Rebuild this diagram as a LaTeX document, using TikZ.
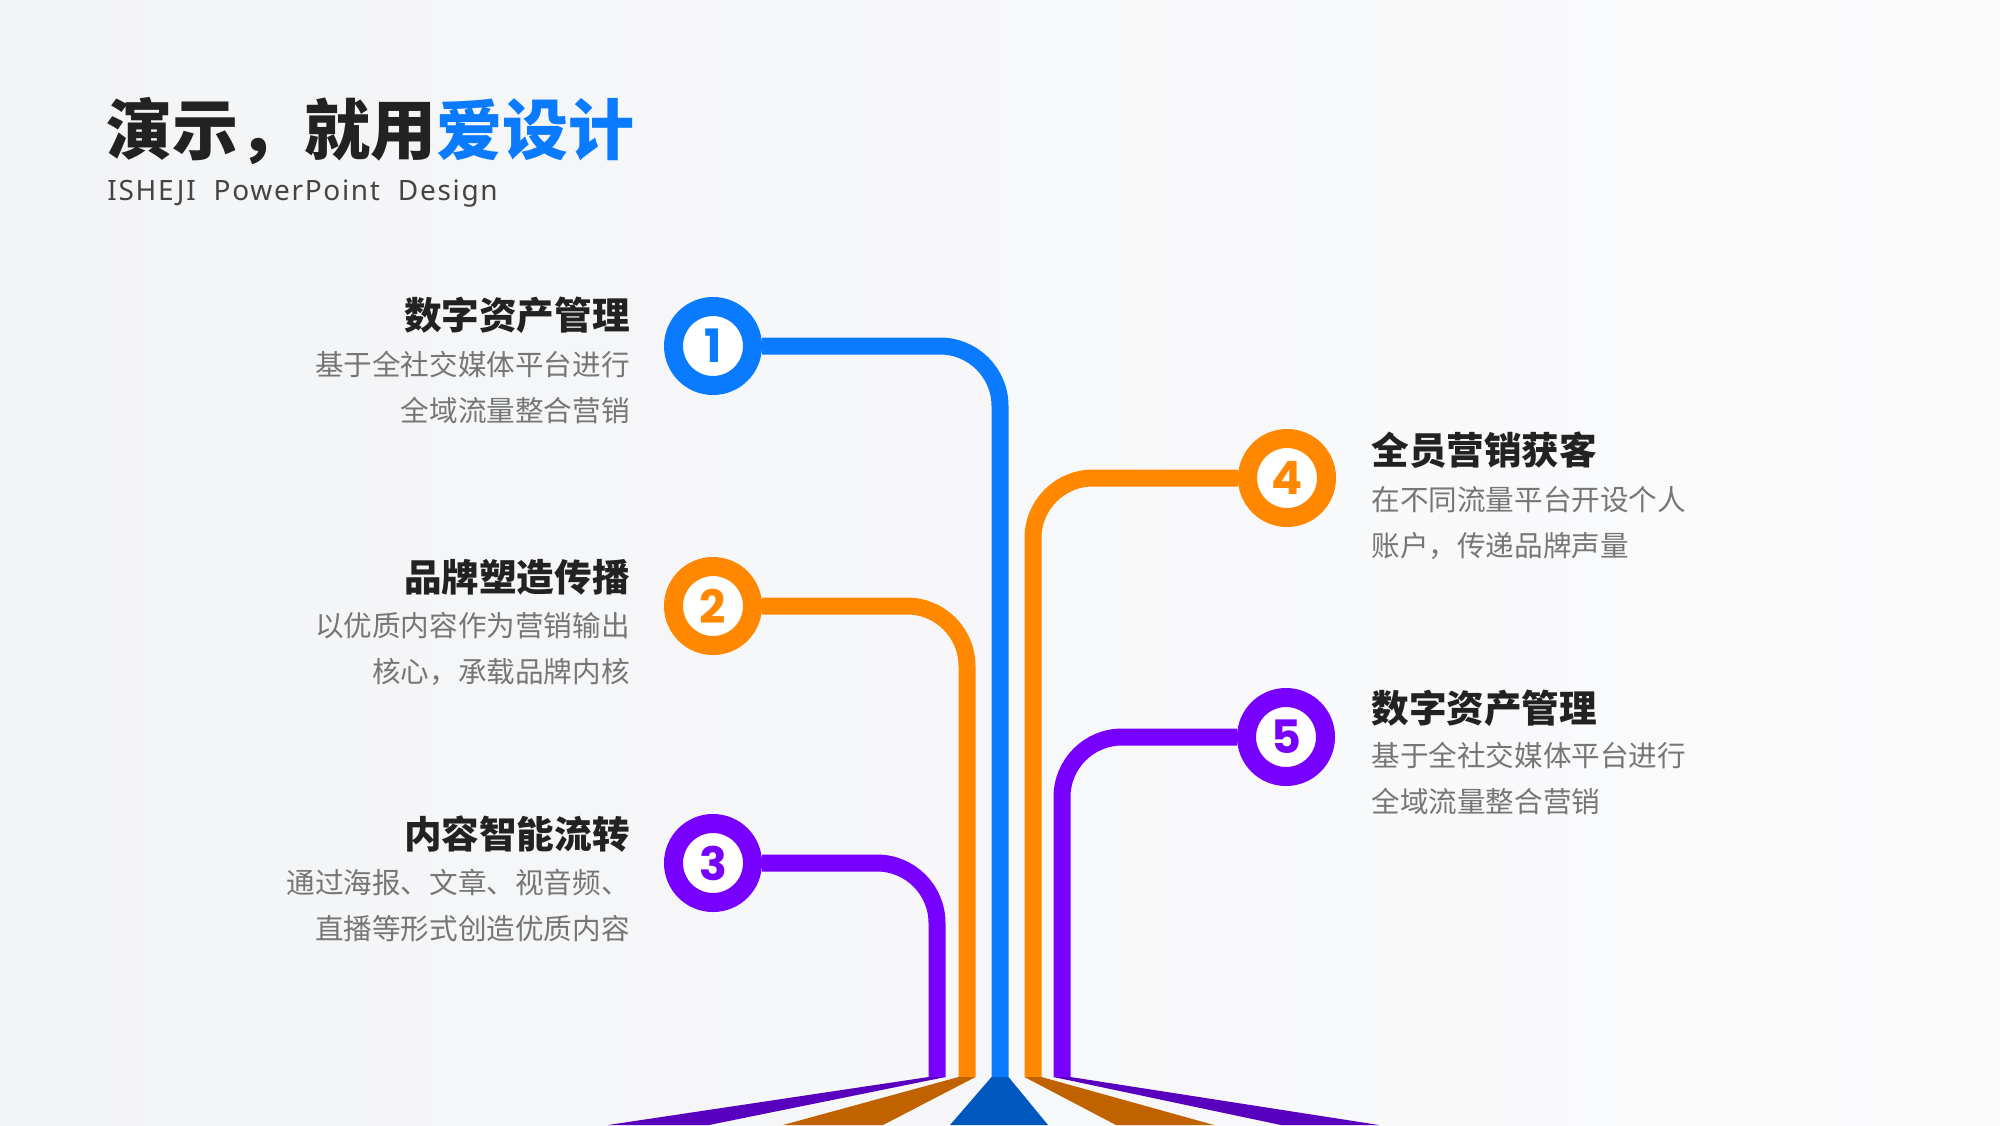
\documentclass[tikz,border=0pt]{standalone}
\usepackage{fontspec}
\usepackage{xcolor}
\usepackage{tikz}
\usetikzlibrary{positioning, calc}
\newfontfamily\cjk{Noto Sans CJK SC}
\newfontfamily\numfont{Poppins}
\newfontfamily\subfont[LetterSpace=6]{Noto Sans}
\definecolor{myblue}{RGB}{10,122,255}
\definecolor{myorange}{RGB}{255,136,0}
\definecolor{mypurple}{RGB}{119,0,255}
\definecolor{fanblue}{RGB}{0,88,190}
\definecolor{fanorange}{RGB}{192,98,0}
\definecolor{fanpurple}{RGB}{88,0,190}
\definecolor{mydark}{RGB}{34,34,34}
\definecolor{mygrey}{RGB}{118,118,118}
\definecolor{subgrey}{RGB}{68,68,68}
\definecolor{bgleft}{RGB}{243,244,246}
\definecolor{bgright}{RGB}{251,251,252}
\tikzset{
  ring/.style={circle, draw=#1, fill=white, line width=9.5pt,
    minimum size=39.5pt, inner sep=0pt, text=#1,
    font=\numfont\bfseries\fontsize{23}{23}\selectfont},
  wire/.style={line width=8.5pt, color=#1, rounded corners=30pt},
  headtext/.style={inner sep=0pt, text=mydark,
    font=\cjk\bfseries\fontsize{18.8}{22}\selectfont},
  desctext/.style={inner sep=0pt, text=mygrey,
    font=\cjk\fontsize{14.3}{23}\selectfont}
}

\begin{document}
\begin{tikzpicture}[x=0.5pt, y=-0.5pt]
  % Background
  \shade[left color=bgleft, right color=bgright] (0,0) rectangle (2000,1125);
  \useasboundingbox (0,0) rectangle (2000,1125);

  % Title
  \node[anchor=west, inner sep=0pt, font=\cjk\bfseries\fontsize{33}{36}\selectfont, text=mydark]
    (title) at (106,131) {演示，就用\textcolor{myblue}{爱设计}};
  \node[anchor=west, inner sep=0pt, font=\subfont\fontsize{14}{18}\selectfont, text=subgrey]
    (subtitle) at (107,194) {ISHEJI\ \ PowerPoint\ \ Design};

  % Number rings
  \node[ring=myblue]   (c1) at (713,346) {1};
  \node[ring=myorange] (c2) at (713,606) {2};
  \node[ring=mypurple] (c3) at (713,863) {3};
  \node[ring=myorange] (c4) at (1287,478) {4};
  \node[ring=mypurple] (c5) at (1286,737) {5};

  % Wire ends at the bottom
  \coordinate (b1) at (1000,1077);
  \coordinate (b2) at (967,1077);
  \coordinate (b3) at (937,1077);
  \coordinate (b4) at (1033,1077);
  \coordinate (b5) at (1062,1077);

  % Wires
  \draw[wire=myblue]   (c1.east) -| (b1);
  \draw[wire=myorange] (c2.east) -| (b2);
  \draw[wire=mypurple] (c3.east) -| (b3);
  \draw[wire=myorange] (c4.west) -| (b4);
  \draw[wire=mypurple] (c5.west) -| (b5);

  % Fan at the bottom
  \fill[fanblue]   (991.5,1077) -- (1008.5,1077) -- (1048,1125) -- (950,1125) -- cycle;
  \fill[fanorange] (958.5,1077) -- (975.5,1077) -- (883,1125) -- (783,1125) -- cycle;
  \fill[fanpurple] (928.5,1077) -- (945.5,1077) -- (709,1125) -- (608,1125) -- cycle;
  \fill[fanorange] (1024.5,1077) -- (1041.5,1077) -- (1214,1125) -- (1116,1125) -- cycle;
  \fill[fanpurple] (1053.5,1077) -- (1070.5,1077) -- (1379,1125) -- (1281,1125) -- cycle;

  % Left items
  \node[headtext, anchor=east] (h1) at (630,315) {数字资产管理};
  \node[desctext, anchor=north east, align=right] (d1) at (630,351)
    {基于全社交媒体平台进行\\全域流量整合营销};
  \node[headtext, anchor=east] (h2) at (630,577) {品牌塑造传播};
  \node[desctext, anchor=north east, align=right] (d2) at (630,612)
    {以优质内容作为营销输出\\核心，承载品牌内核};
  \node[headtext, anchor=east] (h3) at (630,834) {内容智能流转};
  \node[desctext, anchor=north east, align=right] (d3) at (630,869)
    {通过海报、文章、视音频、\\直播等形式创造优质内容};

  % Right items
  \node[headtext, anchor=west] (h4) at (1371,450) {全员营销获客};
  \node[desctext, anchor=north west, align=left] (d4) at (1371,486)
    {在不同流量平台开设个人\\账户，传递品牌声量};
  \node[headtext, anchor=west] (h5) at (1371,708) {数字资产管理};
  \node[desctext, anchor=north west, align=left] (d5) at (1371,742)
    {基于全社交媒体平台进行\\全域流量整合营销};
\end{tikzpicture}
\end{document}
